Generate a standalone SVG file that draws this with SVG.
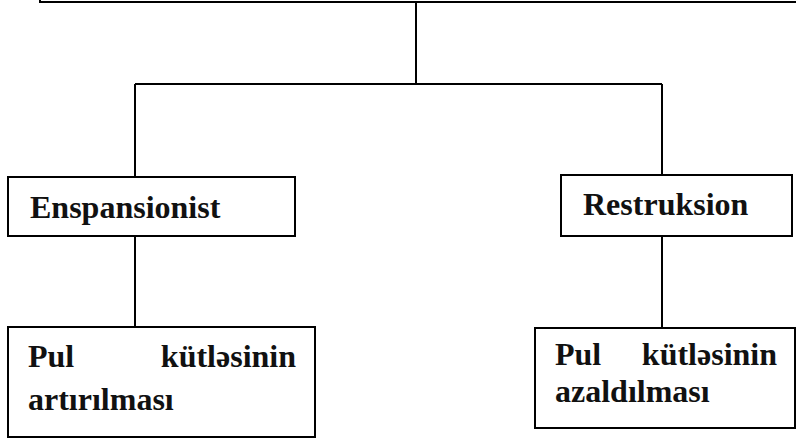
<svg xmlns="http://www.w3.org/2000/svg" width="796" height="440" viewBox="0 0 796 440">
<style>
.box{fill:#fff;stroke:#000;stroke-width:2}
.ln{fill:none;stroke:#000;stroke-width:2}
text{font-family:'Liberation Serif','DejaVu Serif',serif;font-weight:700;font-size:32px;fill:#111}
</style>
<rect width="796" height="440" fill="#fff"/>
<g id="connectors">
<path class="ln" d="M416 2V84M135 84H662M135 84V177M662 84V175M135 236V327M662 236V328"/>
</g>
<g id="top">
<path class="ln" d="M40 -2V2H800"/>
</g>
<g id="enspansionist">
<rect class="box" x="8" y="177" width="287" height="59"/>
<text x="30" y="218">Enspansionist</text>
</g>
<g id="restruksion">
<rect class="box" x="561" y="175" width="231" height="61"/>
<text x="583" y="215">Restruksion</text>
</g>
<g id="artirilmasi">
<rect class="box" x="8" y="327" width="307" height="110"/>
<text x="28" y="367">Pul</text>
<text x="296" y="367" text-anchor="end">kütləsinin</text>
<text x="28" y="410">artırılması</text>
</g>
<g id="azaldilmasi">
<rect class="box" x="535" y="328" width="260" height="100"/>
<text x="555" y="365">Pul</text>
<text x="777" y="365" text-anchor="end">kütləsinin</text>
<text x="555" y="402">azaldılması</text>
</g>
</svg>
